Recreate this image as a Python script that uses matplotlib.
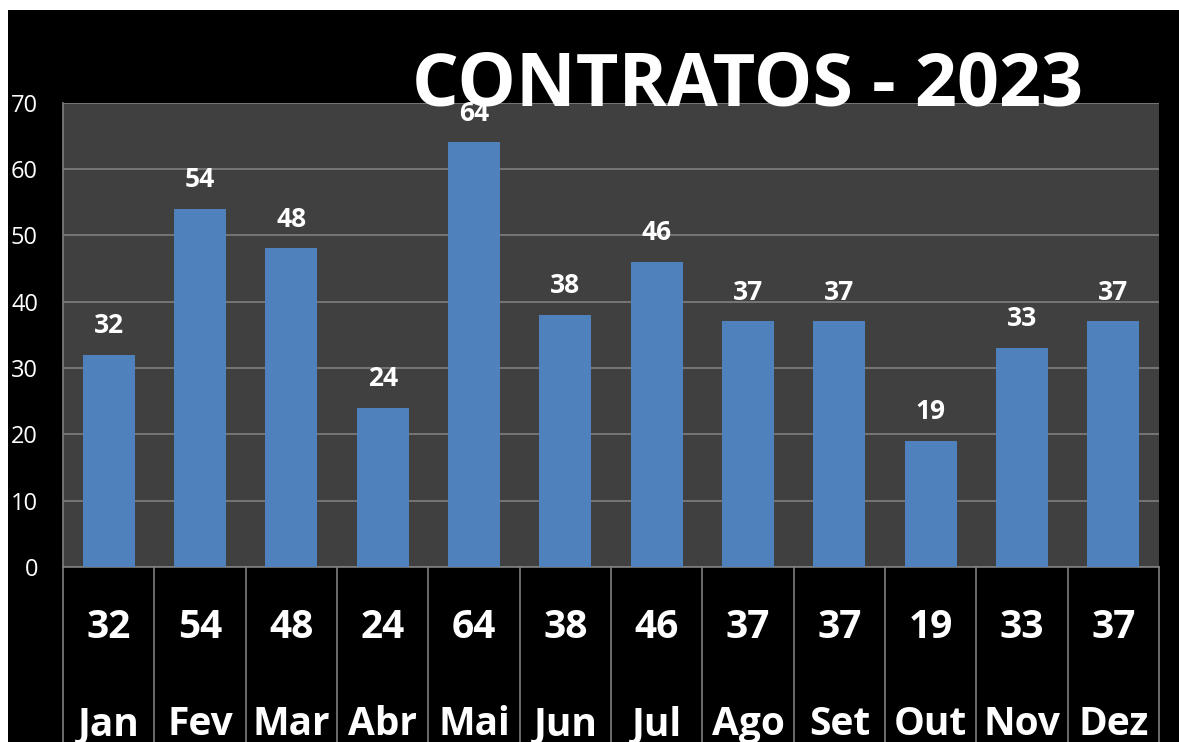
import numpy as np
import matplotlib
matplotlib.use("Agg")
import matplotlib.pyplot as plt
import matplotlib.transforms as mtransforms
from matplotlib.patches import Rectangle

# dados
meses = ['Jan', 'Fev', 'Mar', 'Abr', 'Mai', 'Jun', 'Jul', 'Ago', 'Set', 'Out', 'Nov', 'Dez']
contratos = [32, 54, 48, 24, 64, 38, 46, 37, 37, 19, 33, 37]
titulo = 'CONTRATOS - 2023'

plt.rcParams['font.family'] = ['Open Sans', 'DejaVu Sans']

fig = plt.figure(figsize=(11.79, 7.42), dpi=100)
fig.patch.set_facecolor('white')
# fundo preto (margem branca em cima e a esquerda)
fig.patches.append(Rectangle((8 / 1179, 0), 1 - 8 / 1179, 1 - 10 / 742,
                             transform=fig.transFigure, facecolor='black',
                             edgecolor='none', zorder=-10))

ax = fig.add_axes([63 / 1179, 1 - 567 / 742, (1159 - 63) / 1179, (567 - 102.5) / 742])
ax.set_facecolor('#404040')

x = np.arange(len(meses))
bars = ax.bar(x, contratos, width=0.57, color='#4F81BD', zorder=3)

ax.set_xlim(-0.5, len(meses) - 0.5)
ax.set_ylim(0, 70)
ax.set_yticks(np.arange(0, 71, 10))
ax.yaxis.grid(True, color='#7f7f7f', linewidth=1.2, zorder=1)
ax.set_axisbelow(True)
ax.tick_params(axis='y', length=0, pad=18, labelsize=17, labelcolor='white')
ax.tick_params(axis='x', length=0, labelbottom=False)
for s in ['top', 'right']:
    ax.spines[s].set_visible(False)
for s in ['left', 'bottom']:
    ax.spines[s].set_color('#7f7f7f')
    ax.spines[s].set_linewidth(1.2)

# rotulos acima das barras
for xi, v in zip(x, contratos):
    ax.annotate(str(v), (xi, v), xytext=(0, 21), textcoords='offset points',
                ha='center', va='center', color='white', fontsize=19,
                fontweight='bold', zorder=4)

# tabela de dados abaixo do grafico
trans = mtransforms.blended_transform_factory(ax.transData, ax.transAxes)
for b in np.arange(-0.5, len(meses)):
    ax.plot([b, b], [0, -0.4], transform=trans, color='#7f7f7f',
            linewidth=1.2, clip_on=False)
for xi, v, m in zip(x, contratos, meses):
    ax.text(xi, -0.131, str(v), transform=trans, ha='center', va='center',
            color='white', fontsize=28, fontweight='bold')
    ax.text(xi, -0.362, m, transform=trans, ha='center', va='baseline',
            color='white', fontsize=28, fontweight='bold')

fig.text(747.5 / 1179, 1 - 105 / 742, titulo, ha='center', va='baseline',
         color='white', fontsize=53, fontweight='bold', zorder=10)

fig.savefig('out.png', dpi=100, facecolor=fig.get_facecolor())
